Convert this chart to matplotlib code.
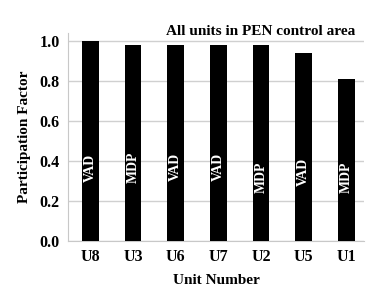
import numpy as np
import matplotlib
matplotlib.use("Agg")
import matplotlib.pyplot as plt

units = ["U8", "U3", "U6", "U7", "U2", "U5", "U1"]
factors = [1.0, 0.98, 0.98, 0.98, 0.98, 0.94, 0.81]
modes = ["VAD", "MDP", "VAD", "VAD", "MDP", "VAD", "MDP"]
label_y = [0.365, 0.37, 0.37, 0.37, 0.32, 0.345, 0.32]

plt.rcParams['font.family'] = ['Liberation Serif', 'DejaVu Serif']
plt.rcParams['font.weight'] = 'bold'

fig = plt.figure(figsize=(3.87, 2.92), dpi=100)
ax = fig.add_axes([0.176, 0.175, 0.765, 0.712])

x = np.arange(len(units))
ax.bar(x, factors, width=0.39, color="black", zorder=3)
for xi, m, ly in zip(x, modes, label_y):
    ax.text(xi, ly, m, rotation=90, color="white", ha="center", va="center",
            fontsize=10, fontweight="bold", zorder=4)

ax.set_xlim(-0.52, 6.42)
ax.set_ylim(0, 1.04)
ax.set_yticks([0.0, 0.2, 0.4, 0.6, 0.8, 1.0])
ax.set_yticklabels(["0.0", "0.2", "0.4", "0.6", "0.8", "1.0"])
ax.set_xticks(x)
ax.set_xticklabels(units)
ax.tick_params(axis="both", labelsize=11.5, length=0, pad=6)
ax.yaxis.grid(True, color="#d0d0d0", linewidth=1, zorder=0)
for s in ["top", "right"]:
    ax.spines[s].set_visible(False)
ax.spines["left"].set_color("#c8c8c8")
ax.spines["bottom"].set_color("#c8c8c8")

ax.set_xlabel("Unit Number", fontsize=11, fontweight="bold", labelpad=6)
ax.set_ylabel("Participation Factor", fontsize=11, fontweight="bold", labelpad=6)
ax.text(0.97, 0.975, "All units in PEN control area", transform=ax.transAxes,
        ha="right", va="bottom", fontsize=11, fontweight="bold")

fig.savefig("out.png", dpi=100)
